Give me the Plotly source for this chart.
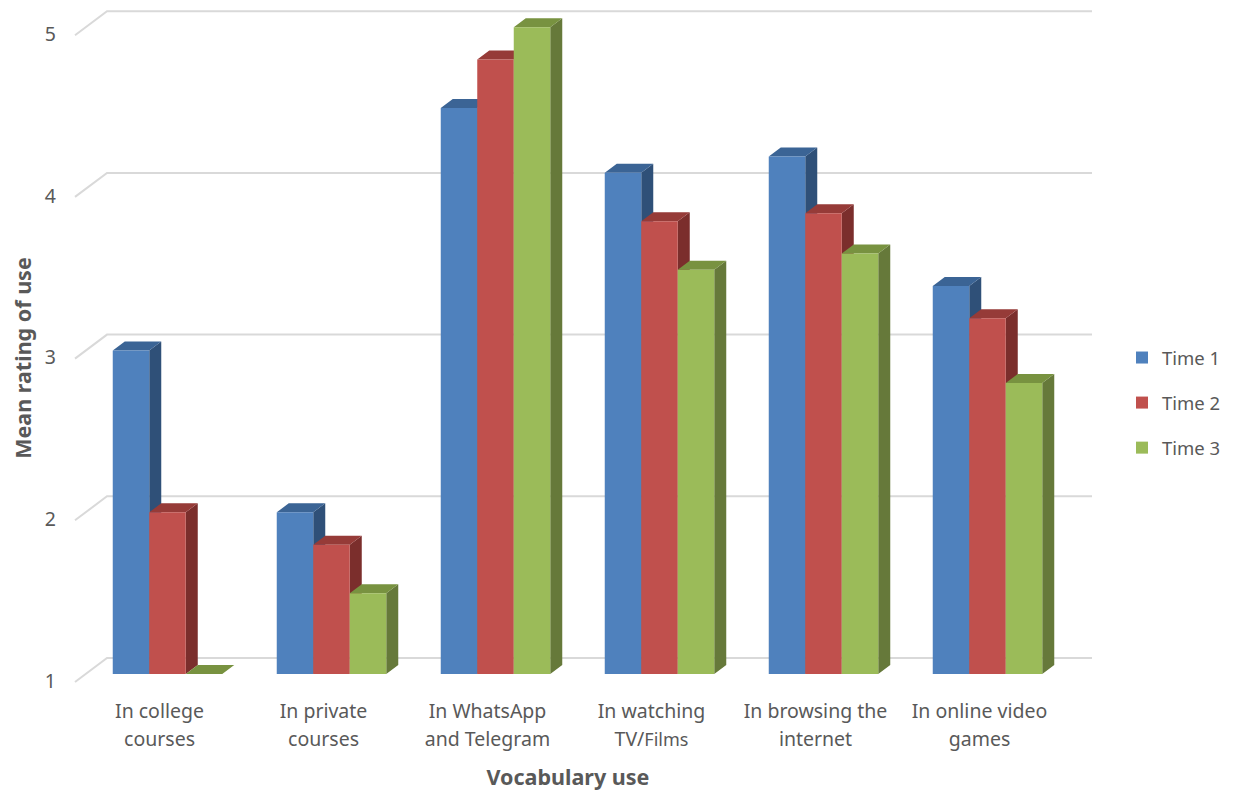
import plotly.graph_objects as go

categories = ["In college courses", "In private courses", "In WhatsApp and Telegram",
              "In watching TV/Films", "In browsing the internet", "In online video games"]
line1 = ["In college", "In private", "In WhatsApp", "In watching", "In browsing the", "In online video"]
line2 = ["courses", "courses", "and Telegram",
         "TV/<span style='font-size:18px'>Films</span>", "internet", "games"]
time1 = [3.0, 2.0, 4.5, 4.1, 4.2, 3.4]
time2 = [2.0, 1.8, 4.8, 3.8, 3.85, 3.2]
time3 = [1.0, 1.5, 5.0, 3.5, 3.6, 2.8]
series = [("Time 1", time1), ("Time 2", time2), ("Time 3", time3)]
y_ticks = [1, 2, 3, 4, 5]

front = ["#4F81BD", "#C0504D", "#9BBB59"]
side = ["#2F5078", "#7B2E2C", "#66793A"]
top = ["#3B6495", "#963B38", "#789240"]
GRID = "#D9D9D9"
TEXT = "#595959"
FONT = "Noto Sans"

PAGE = 8  # the page's own margin round the figure
W, H = 1220, 783
# plot-area pixel box, in figure pixels
L, R, T, B = 49, W, 0, 700
TITLE_AXIS_R_PX = 1071  # the x title's axis stops here so the title centres as in the reference
PX_GROUP, PX_UNIT = 164.0, 161.7
X0_PX, Y1_PX = 159.5 - PAGE, 674.0 - PAGE
xr = [(L - X0_PX) / PX_GROUP, (R - X0_PX) / PX_GROUP]
yr = [1 + (Y1_PX - B) / PX_UNIT, 1 + (Y1_PX - T) / PX_UNIT]

BAR_W = 36.5 / PX_GROUP
BAR_SHIFT = 8.0 / PX_GROUP
DX, DY = 12.0 / PX_GROUP, 9.0 / PX_UNIT
WALL_DY = 16.0 / PX_UNIT
FLOOR_FRONT_DY = -8.0 / PX_UNIT
GRID_L0 = (75 - PAGE - X0_PX) / PX_GROUP
GRID_L1 = (107 - PAGE - X0_PX) / PX_GROUP
GRID_R = (1092 - PAGE - X0_PX) / PX_GROUP

fig = go.Figure()

for v in y_ticks:
    fig.add_trace(go.Scatter(
        x=[GRID_L0, GRID_L1, GRID_R],
        y=[v + FLOOR_FRONT_DY, v + WALL_DY, v + WALL_DY],
        mode="lines", line=dict(color=GRID, width=2),
        showlegend=False, hoverinfo="skip"))

pos = list(range(len(categories)))
for k, (name, vals) in enumerate(series):
    sx, sy, tx, ty = [], [], [], []
    for i, v in zip(pos, vals):
        x0 = i + BAR_SHIFT + (k - 1.5) * BAR_W
        x1 = x0 + BAR_W
        sx += [x1, x1 + DX, x1 + DX, x1, x1, None]
        sy += [1, 1 + DY, v + DY, v, 1, None]
        tx += [x0, x0 + DX, x1 + DX, x1, x0, None]
        ty += [v, v + DY, v + DY, v, v, None]
    fig.add_trace(go.Scatter(x=sx, y=sy, mode="lines", fill="toself", fillcolor=side[k],
                             line=dict(width=0, color=side[k]), showlegend=False, hoverinfo="skip"))
    fig.add_trace(go.Scatter(x=tx, y=ty, mode="lines", fill="toself", fillcolor=top[k],
                             line=dict(width=0, color=top[k]), showlegend=False, hoverinfo="skip"))

for k, (name, vals) in enumerate(series):
    fig.add_trace(go.Bar(
        x=pos, y=[v - 1 for v in vals], base=1, name=name,
        width=BAR_W, offset=BAR_SHIFT + (k - 1.5) * BAR_W,
        marker=dict(color=front[k], line=dict(width=0)),
        customdata=vals, hovertemplate="%{customdata}<extra>" + name + "</extra>",
        legendgroup=name, xaxis="x2", yaxis="y2"))

# empty trace that keeps the title-only x axis alive
fig.add_trace(go.Scatter(x=[None], y=[None], xaxis="x3", yaxis="y", showlegend=False, hoverinfo="skip"))

tick_font = dict(family=FONT, size=19.5, color=TEXT)
title_font = dict(family=FONT, size=21.5, color=TEXT, weight="bold")

fig.update_layout(
    width=W, height=H, autosize=False,
    margin=dict(l=L, r=W - R, t=T, b=H - B, pad=0, autoexpand=False),
    paper_bgcolor="white", plot_bgcolor="rgba(0,0,0,0)",
    barmode="overlay",
    xaxis=dict(range=xr, tickmode="array", tickvals=pos, ticktext=line1,
               tickfont=tick_font, showgrid=False, zeroline=False, showline=False, ticks="",
               ticklabelstandoff=-11, tickangle=0),
    xaxis2=dict(range=xr, overlaying="x", anchor="y2", side="bottom", tickmode="array",
                tickvals=pos, ticktext=line2, tickfont=tick_font, tickangle=0,
                showgrid=False, zeroline=False, showline=False, ticks="", ticklabelstandoff=17),
    xaxis3=dict(domain=[0, (TITLE_AXIS_R_PX - L) / (R - L)], range=[0, 1], anchor="y", side="bottom",
                showticklabels=False, showgrid=False, zeroline=False, showline=False, ticks="",
                title=dict(text="Vocabulary use", font=title_font, standoff=63)),
    yaxis=dict(range=yr, tickmode="array", tickvals=y_ticks, ticktext=[str(v) for v in y_ticks],
               tickfont=tick_font, showgrid=False, zeroline=False, showline=False, ticks="",
               ticklabelshift=7,
               title=dict(text="Mean rating of use", font=title_font, standoff=10)),
    yaxis2=dict(range=yr, overlaying="y", anchor="x2", visible=False),
    legend=dict(x=(1122 - PAGE - L) / (R - L), xanchor="left",
                y=(B - (339 - PAGE)) / (B - T), yanchor="top",
                font=dict(family=FONT, size=18.5, color=TEXT), tracegroupgap=18,
                traceorder="grouped", bgcolor="rgba(0,0,0,0)", itemwidth=30),
)

fig.write_html("out.html")
